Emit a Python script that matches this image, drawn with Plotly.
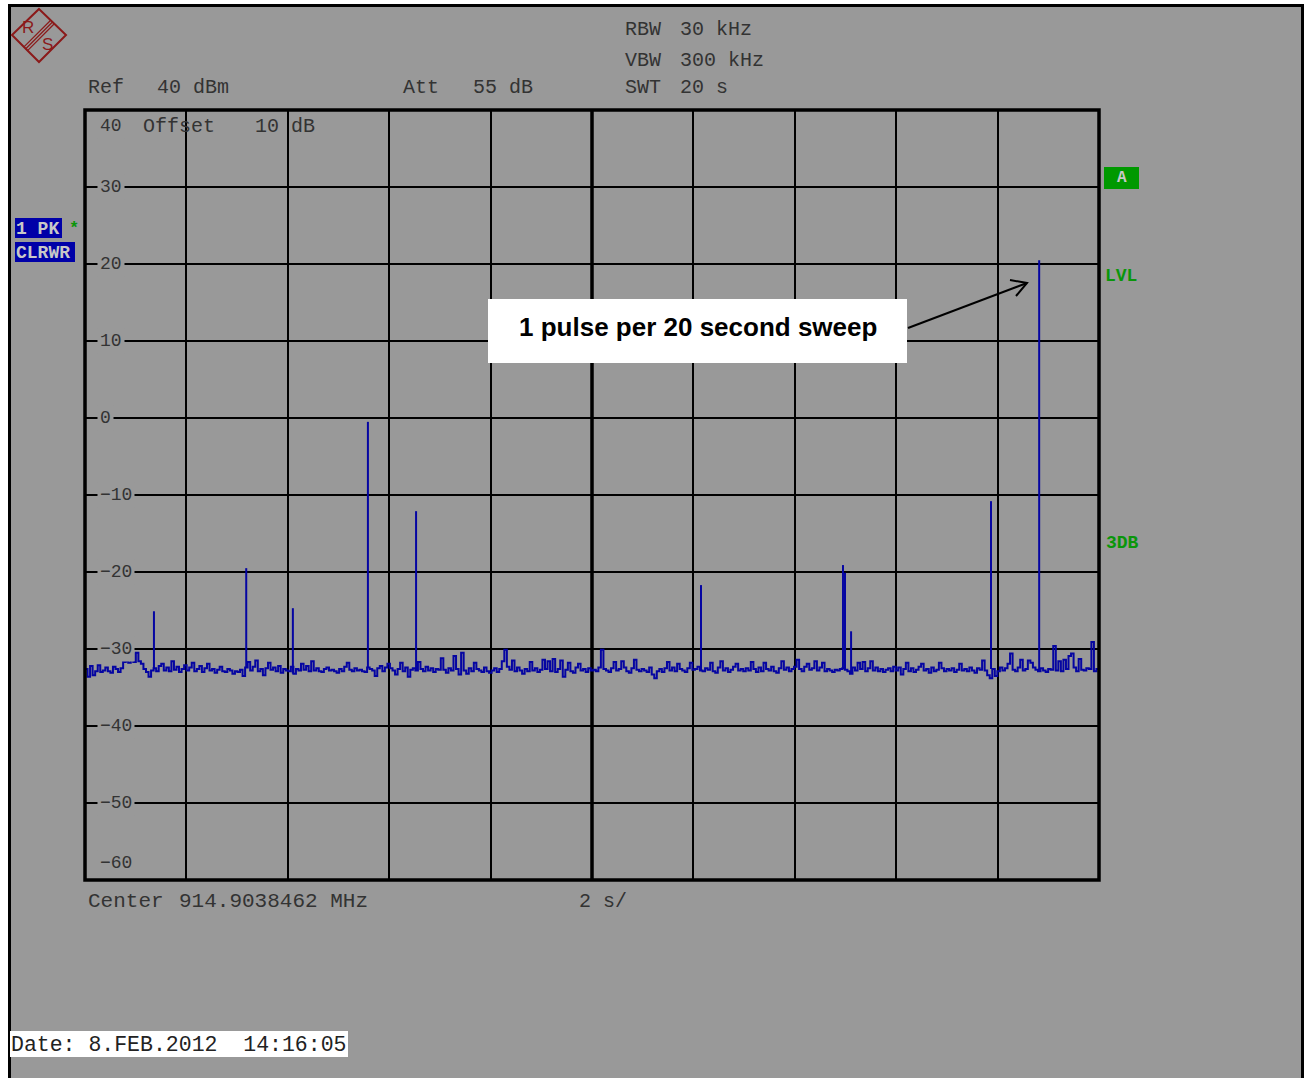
import numpy as np
import plotly.graph_objects as go

# ---------------- data ----------------
# noise floor of the zero-span sweep (dBm), 400 samples across 0..20 s
floor_db = [
    -32.6,-33.6,-32.2,-33.4,-32.9,-32.1,-33.0,-32.8,-32.4,-32.9,-33.1,-32.3,-32.6,-33.0,-32.5,-31.7,-31.6,-31.8,-30.6,-31.7,
    -30.5,-31.6,-31.9,-32.6,-33.0,-33.6,-32.8,-32.5,-32.9,-32.2,-31.9,-32.8,-32.4,-32.9,-31.6,-32.7,-32.3,-33.0,-32.6,-32.1,
    -32.8,-32.4,-31.8,-32.9,-32.6,-32.2,-33.0,-32.5,-31.9,-32.8,-32.6,-33.1,-32.7,-32.3,-32.9,-33.0,-32.6,-32.8,-33.2,-32.9,
    -33.0,-32.7,-33.5,-32.4,-31.7,-32.8,-32.3,-31.5,-32.9,-32.6,-33.4,-32.5,-31.8,-32.7,-32.4,-32.9,-32.2,-33.1,-32.6,-32.8,
    -32.9,-32.3,-33.2,-32.6,-32.8,-31.9,-32.7,-32.2,-32.9,-31.6,-32.8,-32.5,-32.9,-33.0,-32.6,-32.4,-32.8,-32.7,-32.9,-33.1,
    -32.6,-32.9,-32.3,-31.8,-32.7,-32.9,-32.5,-32.8,-32.7,-32.9,-33.0,-32.4,-32.6,-32.8,-33.5,-32.5,-32.2,-32.9,-32.4,-31.9,
    -32.5,-32.8,-33.3,-32.6,-31.8,-32.9,-32.4,-33.6,-32.7,-32.5,-32.8,-31.7,-32.6,-32.9,-32.3,-32.8,-32.5,-33.0,-32.6,-32.7,
    -31.2,-32.7,-33.1,-32.5,-32.8,-30.9,-32.6,-33.3,-30.5,-32.8,-33.2,-32.5,-32.9,-31.8,-32.6,-32.8,-33.0,-32.4,-32.9,-33.1,
    -32.8,-32.5,-33.0,-32.6,-31.6,-30.1,-32.3,-32.7,-31.5,-32.9,-32.4,-32.8,-33.2,-32.6,-32.9,-31.7,-32.8,-32.5,-33.0,-32.7,
    -31.4,-32.6,-31.6,-32.9,-31.3,-33.0,-32.6,-31.5,-33.6,-32.7,-31.8,-32.9,-33.1,-32.4,-31.9,-32.8,-32.6,-33.0,-32.5,-32.8,
    -32.7,-32.9,-32.4,-30.1,-32.6,-32.8,-33.0,-32.5,-31.7,-32.8,-32.6,-31.6,-32.4,-32.9,-33.1,-32.5,-31.4,-32.7,-32.9,-32.6,
    -32.8,-33.0,-32.4,-33.3,-33.8,-32.9,-32.6,-33.0,-32.5,-31.7,-32.8,-32.4,-32.9,-31.9,-32.6,-32.8,-33.0,-32.5,-31.8,-32.7,
    -32.6,-32.3,-32.8,-32.9,-32.5,-32.7,-31.8,-32.9,-33.1,-32.4,-31.6,-32.8,-32.5,-33.0,-32.7,-32.3,-31.9,-32.8,-32.6,-32.9,
    -32.5,-32.8,-31.7,-32.6,-33.0,-32.4,-32.9,-31.8,-32.6,-32.8,-32.3,-32.9,-33.1,-32.5,-31.6,-32.7,-32.4,-32.9,-32.6,-32.3,
    -31.4,-32.6,-32.9,-32.3,-31.9,-32.7,-32.5,-31.6,-32.8,-32.4,-31.8,-32.9,-32.6,-32.8,-33.0,-32.7,-32.8,-32.6,-32.5,-32.7,
    -32.9,-33.2,-32.4,-32.8,-31.8,-32.6,-31.7,-32.9,-32.5,-31.6,-32.8,-32.4,-32.9,-32.6,-33.0,-32.7,-32.5,-32.9,-32.3,-32.8,
    -32.4,-33.3,-32.6,-31.8,-32.9,-32.5,-33.0,-32.7,-32.3,-31.9,-32.8,-32.6,-33.1,-32.4,-32.9,-32.7,-31.8,-32.5,-32.9,-32.6,
    -32.8,-32.5,-33.0,-32.7,-31.9,-32.8,-32.6,-32.9,-32.4,-32.8,-33.1,-32.5,-32.7,-31.5,-32.8,-33.4,-33.8,-32.6,-33.5,-32.9,
    -32.4,-32.8,-32.5,-31.9,-30.6,-32.7,-32.9,-32.4,-31.4,-32.8,-32.6,-31.5,-31.8,-32.4,-32.7,-32.9,-32.5,-32.8,-33.0,-32.6,
    -32.7,-29.6,-32.8,-31.6,-32.9,-31.4,-32.6,-30.9,-30.6,-32.4,-32.9,-31.3,-32.7,-32.8,-32.5,-32.6,-29.1,-32.9,-32.6,-33.3,
]
# pulses caught in the sweep (time in s, level in dBm)
pulse_time = [1.36, 3.18, 4.10, 5.58, 6.53, 12.15, 14.95, 14.99, 15.11, 17.87, 18.82]
pulse_db = [-25.1, -19.5, -24.7, -0.5, -12.1, -21.7, -19.1, -20.1, -27.7, -10.8, 20.5]

y_tick_vals = [40, 30, 20, 10, 0, -10, -20, -30, -40, -50, -60]
y_tick_text = ["40", "30", "20", "10", "0", "\u221210", "\u221220", "\u221230", "\u221240", "\u221250", "\u221260"]

SWEEP_S = 20
REF_DB, BOTTOM_DB = 40, -60

# ---------------- build traces ----------------
n = len(floor_db)
t = np.linspace(0, SWEEP_S, n)
px_t, px_y = [], []
for pt, pdb in zip(pulse_time, pulse_db):
    base = floor_db[int(round(pt / SWEEP_S * (n - 1)))]
    px_t += [pt, pt, None]
    px_y += [base, pdb, None]

# ---------------- layout geometry ----------------
W, H = 1305, 1078
L, R, T, B = 85, 206, 110, 198
PW, PH = W - L - R, H - T - B


def px(x):
    return (x - L) / PW


def py(y):
    return (H - B - y) / PH


GRAY = "#999999"
TXT = "#333333"
MONO = "Liberation Mono, Courier New, monospace"
BLUE = "#0505a2"
GREEN = "#0a960a"
RS_RED = "#8b1a1a"

fig = go.Figure()
fig.add_trace(go.Scatter(
    x=t, y=floor_db, mode="lines", line=dict(color=BLUE, width=2, shape="hv"),
    hoverinfo="skip", showlegend=False))
fig.add_trace(go.Scatter(
    x=px_t, y=px_y, mode="lines", line=dict(color=BLUE, width=2),
    hoverinfo="skip", showlegend=False))

shapes = []
annotations = []


def rect(x0, y0, x1, y1, fill, line_color=None, lw=0, layer="above"):
    shapes.append(dict(type="rect", xref="paper", yref="paper",
                       x0=px(x0), x1=px(x1), y0=py(y0), y1=py(y1),
                       fillcolor=fill, line=dict(color=line_color or fill, width=lw),
                       layer=layer))


def path(points, color, width, closed=False):
    d = "M " + " L ".join(f"{px(a):.5f},{py(b):.5f}" for a, b in points)
    if closed:
        d += " Z"
    shapes.append(dict(type="path", xref="paper", yref="paper", path=d,
                       line=dict(color=color, width=width), layer="above"))


def text(s, x, y, size=20, color=TXT, family=MONO, xanchor="left", bg=None):
    annotations.append(dict(text=s, xref="paper", yref="paper", x=px(x), y=py(y),
                            xanchor=xanchor, yanchor="middle", showarrow=False,
                            font=dict(family=family, size=size, color=color),
                            borderpad=0, borderwidth=0,
                            bgcolor=bg if bg else "rgba(0,0,0,0)"))


# white page margin outside the instrument frame
rect(-20, -20, 8, H + 20, "white")
rect(-20, -20, W + 20, 4, "white")
rect(1304, -20, W + 20, H + 20, "white")
# instrument outer frame
shapes.append(dict(type="path", xref="paper", yref="paper",
                   path=f"M {px(9.5)},{py(H + 20)} L {px(9.5)},{py(5.5)} L {px(1302.5)},{py(5.5)} L {px(1302.5)},{py(H + 20)}",
                   line=dict(color="black", width=3), layer="above"))

# centre vertical line and plot frame
shapes.append(dict(type="line", xref="x", yref="paper", x0=SWEEP_S / 2, x1=SWEEP_S / 2, y0=0, y1=1,
                   line=dict(color="black", width=3.5), layer="between"))
shapes.append(dict(type="rect", xref="paper", yref="paper", x0=0, x1=1, y0=0, y1=1,
                   line=dict(color="black", width=3.5), layer="above"))

# R&S logo
path([(39, 9), (66, 35), (39, 62), (12, 35)], RS_RED, 2, closed=True)
for off in (-1.8, 0, 1.8):
    path([(52.5 + off, 22 + off), (25.5 + off, 49 + off)], RS_RED, 1.2)
text("R", 28, 27, size=17, color=RS_RED, family="Liberation Sans, Arial", xanchor="center")
text("S", 47, 44, size=17, color=RS_RED, family="Liberation Sans, Arial", xanchor="center")

# header settings
for s, x, y in [("Ref", 88, 86), ("40 dBm", 157, 86), ("Att", 403, 86), ("55 dB", 473, 86),
                ("RBW", 625, 29), ("30 kHz", 680, 29), ("VBW", 625, 59), ("300 kHz", 680, 59),
                ("SWT", 625, 86), ("20 s", 680, 86), ("Offset", 143, 126), ("10 dB", 255, 126)]:
    text(s, x, y + 1, size=20)

# bottom texts
text("Center", 88, 901, size=21)
text("914.9038462 MHz", 179, 901, size=21)
text("2 s/", 579, 901, size=20)
rect(10, 1031, 348, 1057, "white")
text("Date: 8.FEB.2012  14:16:05", 11, 1045, size=21.5, color="#222222")

# y-axis level labels drawn inside the grid
for v, s in zip(y_tick_vals, y_tick_text):
    shift = -16 if v == REF_DB else (17 if v == BOTTOM_DB else 0)
    annotations.append(dict(text=s, xref="paper", yref="y", x=px(97), y=v, yshift=shift,
                            xanchor="left", yanchor="middle", showarrow=False,
                            font=dict(family=MONO, size=18, color=TXT),
                            bgcolor=GRAY, borderpad=2))

# trace info boxes (left)
rect(15, 218, 62, 238, "#0000a8")
rect(15, 242, 75, 262, "#0000a8")
text("<b>1 PK</b>", 16, 229, size=18, color="#c8c8c8")
text("<b>CLRWR</b>", 16, 253, size=18, color="#c8c8c8")
text("<b>*</b>", 74, 228, size=17, color=GREEN, xanchor="center")

# right-hand markers
rect(1104, 167, 1139, 189, "#009900")
text("<b>A</b>", 1121.5, 178, size=16, color="#c8c8c8", xanchor="center")
text("<b>LVL</b>", 1105, 276, size=18, color=GREEN)
text("<b>3DB</b>", 1106, 543, size=18, color=GREEN)

# call-out
rect(488, 299, 907, 363, "white")
text("<b>1 pulse per 20 second sweep</b>", 697.5, 327, size=26, color="black",
     family="Liberation Sans, Arial, sans-serif", xanchor="center")
path([(908, 328), (1027, 283)], "black", 2)
path([(1010, 280), (1027, 283), (1016, 296)], "black", 2)

fig.update_layout(
    width=W, height=H,
    margin=dict(l=L, r=R, t=T, b=B, pad=0),
    paper_bgcolor=GRAY, plot_bgcolor=GRAY,
    showlegend=False,
    shapes=shapes, annotations=annotations,
    xaxis=dict(range=[0, SWEEP_S], dtick=2, tick0=0, showgrid=True, gridcolor="black", gridwidth=1.6,
               zeroline=False, showticklabels=False, showline=False, ticks="", fixedrange=True),
    yaxis=dict(range=[BOTTOM_DB, REF_DB], dtick=10, tick0=BOTTOM_DB, showgrid=True, gridcolor="black",
               gridwidth=1.6, zeroline=False, showticklabels=False, showline=False, ticks="", fixedrange=True),
)

fig.write_html("out.html", config={"displayModeBar": False})
